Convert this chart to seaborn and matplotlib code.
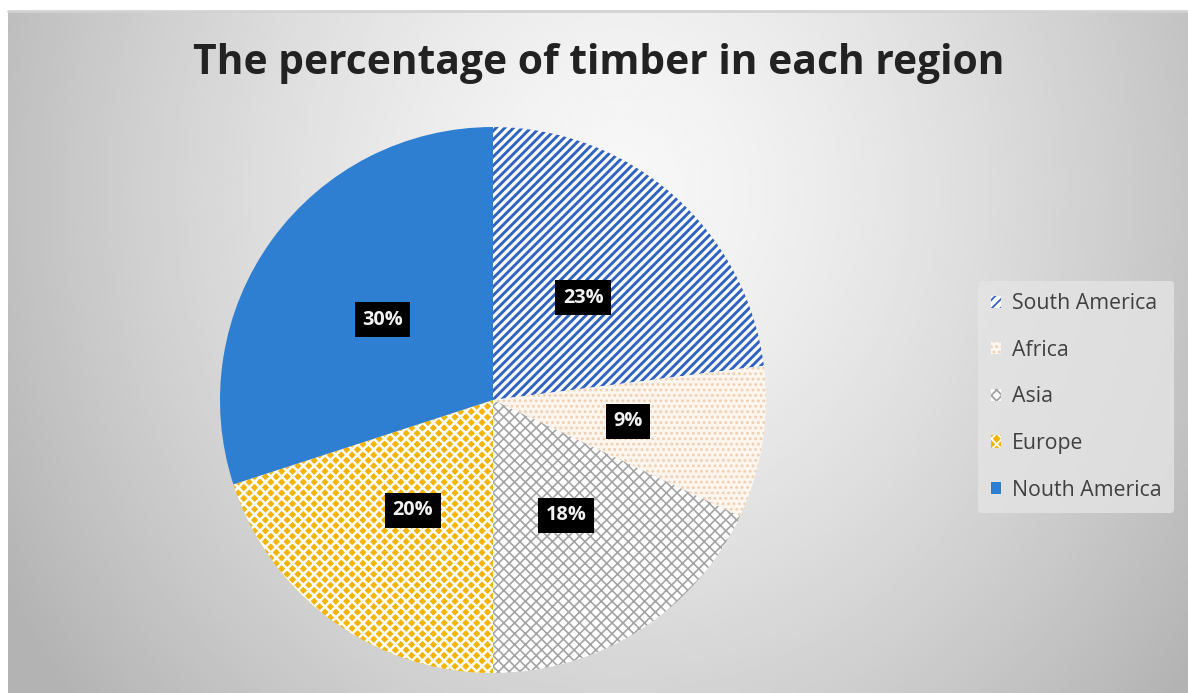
import numpy as np
import matplotlib
matplotlib.use("Agg")
import matplotlib.pyplot as plt
import seaborn as sns

# data
regions = ["South America", "Africa", "Asia", "Europe", "Nouth America"]
shares = [23, 9, 18, 20, 30]

face_colors = ["#ffffff", "#fdf6ef", "#ffffff", "#f5b400", "#2e7fd2"]
hatch_colors = ["#2f62c2", "#efcfb2", "#a3a3a3", "#ffffff", "#2e7fd2"]
hatches = ["/////", "....", "xxxx", "xxxx", ""]
hatch_widths = [1.6, 1.0, 0.9, 1.4, 1.0]

sns.set_theme(style="white")
plt.rcParams["font.family"] = ["Open Sans", "DejaVu Sans"]

DPI = 130
W, H = 1188, 693
fig = plt.figure(figsize=(W / DPI, H / DPI), dpi=DPI)
fig.patch.set_facecolor("white")

# gradient background panel
bg = fig.add_axes([8 / W, 0, 1 - 8 / W, 1 - 11 / H])
xs = np.linspace(8, W, 400)
ys = np.linspace(11, H, 240)
gx, gy = np.meshgrid(xs, ys)
r = np.sqrt(((gx - 620) / 620) ** 2 + ((gy - 190) / 700) ** 2)
shade = 0.97 - 0.22 * np.clip(r, 0, 1.15) ** 1.4
bg.imshow(shade, cmap="gray", vmin=0, vmax=1, aspect="auto",
          extent=[0, 1, 0, 1], interpolation="bilinear")
bg.set_xlim(0, 1)
bg.set_ylim(0, 1)
bg.axis("off")
fig.add_artist(plt.Line2D([8 / W, 1], [1 - 11 / H, 1 - 11 / H],
                          color="#d2d2d2", lw=1.5))

# pie
cx, cy, rad = 493, 400, 273
ax = fig.add_axes([(cx - rad) / W, (H - cy - rad) / H, 2 * rad / W, 2 * rad / H])
wedges, texts, autotexts = ax.pie(
    shares, startangle=90, counterclock=False,
    autopct=lambda p: f"{p:.0f}%", pctdistance=0.5,
    wedgeprops=dict(linewidth=0),
    textprops=dict(color="#f2f2f2", fontsize=11, fontweight="bold"),
)
for w, fc, hc, ht, hw in zip(wedges, face_colors, hatch_colors, hatches, hatch_widths):
    w.set_facecolor(fc)
    w.set_edgecolor(hc)
    w.set_linewidth(0)
    if ht:
        w.set_hatch(ht)
    if hasattr(w, "set_hatch_linewidth"):
        w.set_hatch_linewidth(hw)
for t in autotexts:
    t.set_bbox(dict(boxstyle="square,pad=0.38", facecolor="black", edgecolor="none"))
ax.set_xlim(-1, 1)
ax.set_ylim(-1, 1)
ax.set_aspect("equal")
ax.axis("off")

fig.text(599 / W, 1 - 64 / H, "The percentage of timber in each region",
         ha="center", va="center", fontsize=22.6, fontweight="bold", color="#222222")

leg = fig.legend(wedges, regions, loc="center left",
                 bbox_to_anchor=(978 / W, 1 - 397 / H),
                 frameon=True, fontsize=11.8, labelcolor="#404040",
                 handlelength=0.5, handleheight=0.5, handletextpad=0.5,
                 labelspacing=1.2, borderpad=0.6, borderaxespad=0)
leg.get_frame().set_facecolor("#e4e4e4")
leg.get_frame().set_edgecolor("none")
leg.get_frame().set_alpha(0.8)

fig.savefig("out.png", dpi=DPI)
